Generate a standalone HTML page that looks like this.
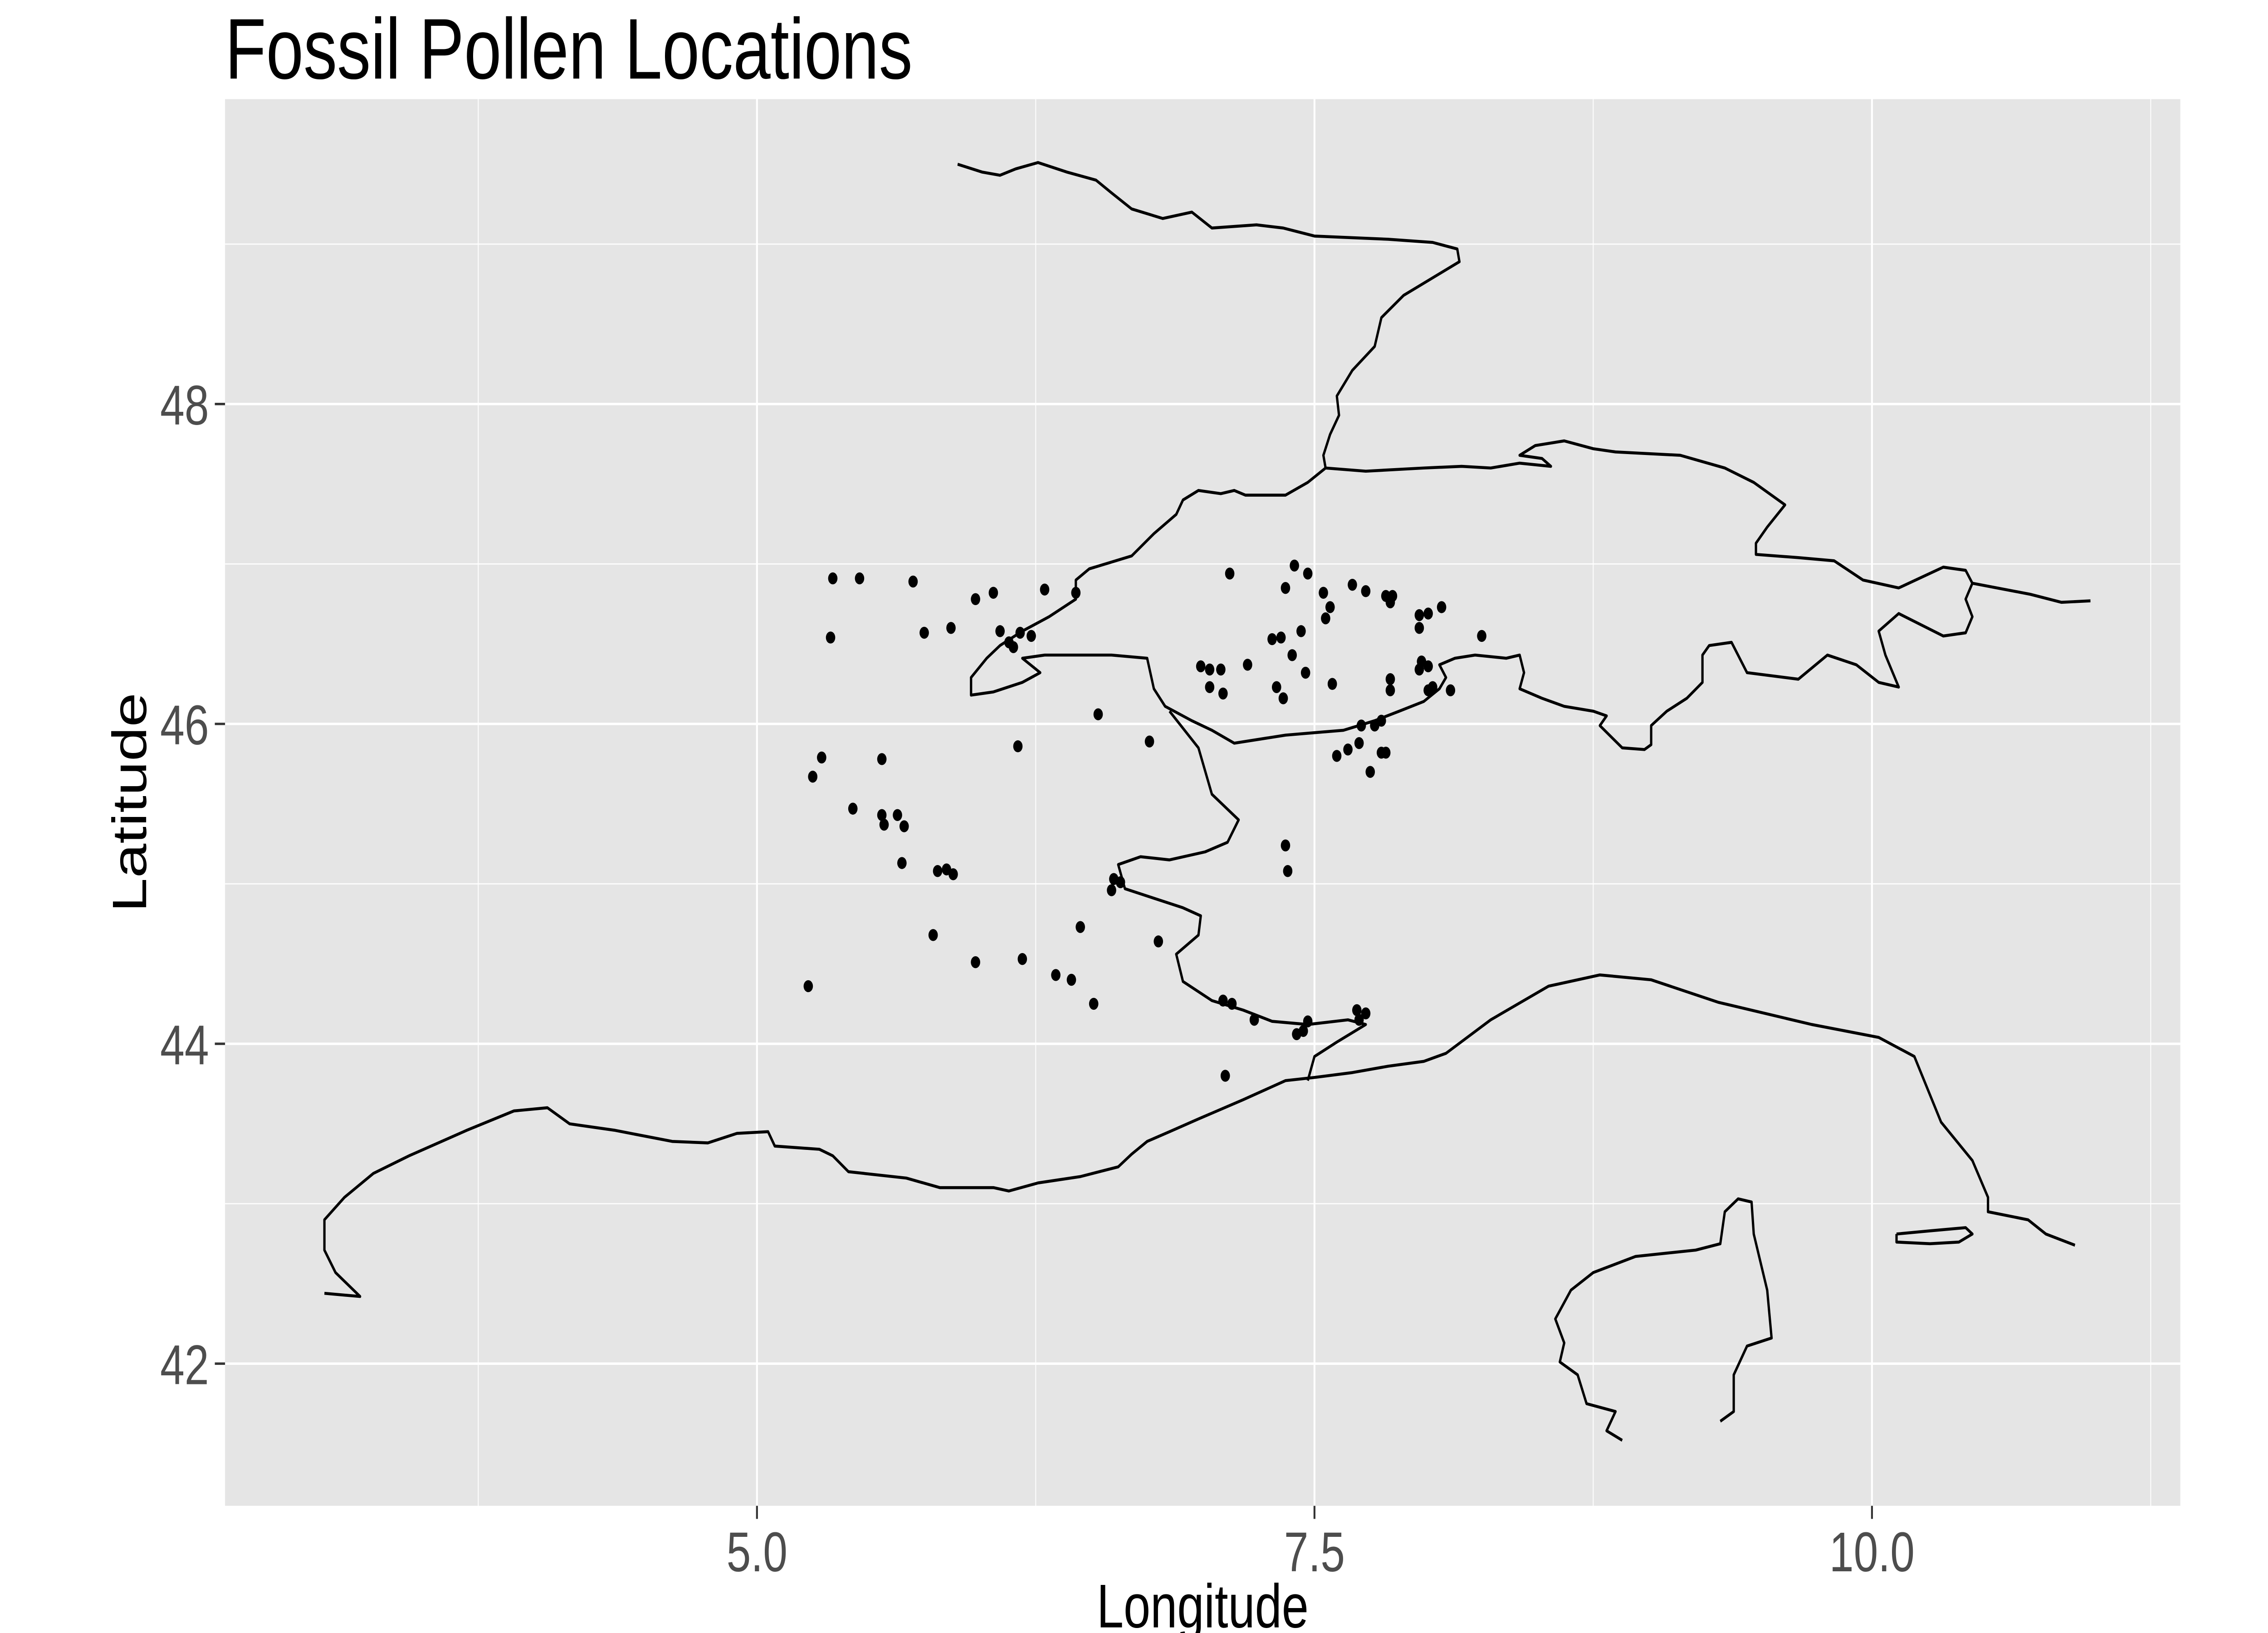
<!DOCTYPE html>
<html><head><meta charset="utf-8"><style>
html,body{margin:0;padding:0;background:#fff;width:100%;height:100%;overflow:hidden}
svg{display:block;width:100vw;height:100vh}
text{font-family:"Liberation Sans",Arial,sans-serif}
</style></head><body>
<svg id="chart" viewBox="0 0 1552 873" preserveAspectRatio="none" xmlns="http://www.w3.org/2000/svg">
<rect x="0" y="0" width="1552" height="873" fill="#fff"/>
<text x="154" y="42" font-size="46" fill="#000">Fossil Pollen Locations</text>
<rect x="154" y="53" width="1338" height="752" fill="#e5e5e5"/>
<g id="grid"></g>
<g id="map"></g>
<g id="pts"></g>
<g id="axes"></g>
<text x="823" y="870" font-size="33" text-anchor="middle" fill="#000">Longitude</text>
<text transform="translate(100,429) rotate(-90)" font-size="33" text-anchor="middle" fill="#000">Latitude</text>
</svg>
<script>
const lonPts=[5.34,5.46,5.33,5.70,5.98,6.06,6.29,6.43,5.75,5.87,6.09,6.13,6.15,6.18,6.23,5.25,5.29,5.56,5.43,5.56,5.63,5.57,5.66,5.65,5.81,5.85,5.88,5.79,5.98,6.19,6.34,6.41,6.45,6.53,6.17,5.23,7.12,7.41,7.47,7.54,7.67,7.73,7.82,7.84,7.85,7.37,7.35,7.44,7.55,7.57,7.31,6.99,7.03,7.08,7.20,7.03,7.09,7.33,7.36,7.40,7.46,7.58,7.97,8.01,8.07,7.97,7.84,7.84,7.98,8.01,7.97,8.03,8.01,8.11,8.25,7.71,7.77,7.80,7.70,7.65,7.60,7.80,7.82,7.75,6.76,7.37,7.38,6.60,6.59,6.63,6.80,6.51,7.09,7.13,7.23,7.42,7.47,7.45,7.69,7.73,7.70,7.10];
const latPts=[46.91,46.91,46.54,46.89,46.78,46.82,46.84,46.82,46.57,46.60,46.58,46.51,46.48,46.57,46.55,45.67,45.79,45.78,45.47,45.43,45.43,45.37,45.36,45.13,45.08,45.09,45.06,44.68,44.51,44.53,44.43,44.40,44.73,46.06,45.86,44.36,46.94,46.99,46.94,46.82,46.87,46.83,46.80,46.76,46.80,46.85,46.54,46.58,46.66,46.73,46.53,46.36,46.34,46.34,46.37,46.23,46.19,46.23,46.16,46.43,46.32,46.25,46.68,46.69,46.73,46.60,46.28,46.21,46.39,46.36,46.34,46.23,46.21,46.21,46.55,45.99,45.99,46.02,45.88,45.84,45.80,45.82,45.82,45.70,45.89,45.24,45.08,45.03,44.96,45.01,44.64,44.25,44.27,44.25,44.15,44.06,44.14,44.08,44.21,44.19,44.15,43.80];
const xMajor=[5.0,7.5,10.0];
const xMajorLabels=["5.0","7.5","10.0"];
const xMinor=[3.75,6.25,8.75,11.25];
const yMajor=[42,44,46,48];
const yMajorLabels=["42","44","46","48"];
const yMinor=[43,45,47,49];
const pathALon=[5.90,6.01,6.09,6.16,6.26,6.39,6.52,6.59,6.68,6.82,6.95,7.04,7.24,7.36,7.50,7.83,8.03,8.14,8.15,7.90,7.80,7.77,7.67,7.60,7.61,7.57,7.54,7.55,7.73,7.99,8.16,8.29,8.42,8.56,8.52,8.42,8.49,8.62,8.75,8.85,9.14,9.34,9.47,9.61,9.53,9.48,9.48,9.67,9.83,9.96,10.12,10.32,10.42,10.45,10.71,10.85,10.98];
const pathALat=[49.50,49.45,49.43,49.47,49.51,49.45,49.40,49.32,49.22,49.16,49.20,49.10,49.12,49.10,49.05,49.03,49.01,48.97,48.89,48.68,48.54,48.36,48.21,48.05,47.93,47.81,47.68,47.60,47.58,47.60,47.61,47.60,47.63,47.61,47.66,47.68,47.74,47.77,47.72,47.70,47.68,47.60,47.51,47.37,47.23,47.13,47.06,47.04,47.02,46.90,46.85,46.98,46.96,46.88,46.81,46.76,46.77];
const pathBLon=[7.55,7.47,7.37,7.19,7.14,7.08,6.98,6.91,6.88,6.78,6.68,6.49,6.43,6.43,6.31,6.19,6.09,6.03,5.96,5.96,6.06,6.19,6.27,6.19,6.29,6.45,6.59,6.75,6.78,6.83,6.95,7.04,7.14,7.37,7.63,7.77,7.88,7.99,8.06,8.09,8.06,8.13,8.22,8.36,8.42,8.44,8.42,8.52,8.62,8.75,8.81,8.78,8.88,8.98,9.01,9.01,9.08,9.17,9.24,9.24,9.27,9.37,9.44,9.67,9.80,9.93,10.03,10.12,10.06,10.03,10.12,10.32,10.42,10.45,10.42,10.45];
const pathBLat=[47.60,47.51,47.43,47.43,47.46,47.44,47.46,47.40,47.31,47.19,47.05,46.97,46.90,46.78,46.67,46.58,46.49,46.41,46.29,46.18,46.20,46.26,46.32,46.41,46.43,46.43,46.43,46.41,46.22,46.11,46.02,45.96,45.88,45.93,45.96,46.02,46.08,46.14,46.22,46.29,46.37,46.41,46.43,46.41,46.43,46.32,46.22,46.16,46.11,46.08,46.05,45.99,45.85,45.84,45.87,45.99,46.08,46.16,46.26,46.43,46.49,46.51,46.32,46.28,46.43,46.37,46.26,46.23,46.43,46.58,46.69,46.55,46.57,46.67,46.78,46.88];
const pathCLon=[6.85,6.98,7.04,7.16,7.11,7.01,6.85,6.72,6.62,6.65,6.78,6.91,6.99,6.98,6.88,6.91,7.04,7.18,7.31,7.47,7.65,7.73,7.60,7.50,7.47];
const pathCLat=[46.08,45.85,45.56,45.40,45.26,45.20,45.15,45.17,45.12,44.97,44.91,44.85,44.80,44.68,44.56,44.39,44.27,44.21,44.14,44.12,44.15,44.12,44.01,43.92,43.77];
const coastLon=[3.06,3.22,3.11,3.06,3.06,3.15,3.28,3.44,3.70,3.91,4.06,4.16,4.36,4.62,4.78,4.91,5.05,5.08,5.28,5.34,5.41,5.67,5.82,6.06,6.13,6.26,6.45,6.62,6.68,6.75,6.85,6.98,7.18,7.37,7.50,7.67,7.83,7.99,8.09,8.29,8.55,8.78,9.01,9.31,9.73,10.03,10.19,10.31,10.45,10.52,10.52,10.70,10.78,10.91];
const coastLat=[42.44,42.42,42.57,42.71,42.90,43.04,43.19,43.30,43.46,43.58,43.60,43.50,43.46,43.39,43.38,43.44,43.45,43.36,43.34,43.30,43.20,43.16,43.10,43.10,43.08,43.13,43.17,43.23,43.31,43.39,43.45,43.53,43.65,43.77,43.79,43.82,43.86,43.89,43.94,44.15,44.36,44.43,44.40,44.26,44.12,44.04,43.92,43.51,43.27,43.04,42.95,42.90,42.81,42.74];
const elbaLon=[10.11,10.26,10.42,10.45,10.39,10.26,10.11,10.11];
const elbaLat=[42.81,42.83,42.85,42.81,42.76,42.75,42.76,42.81];
const corsLon=[9.32,9.38,9.38,9.44,9.55,9.53,9.47,9.46,9.40,9.34,9.32,9.21,8.94,8.75,8.65,8.58,8.62,8.60,8.68,8.72,8.85,8.81,8.88];
const corsLat=[41.64,41.70,41.93,42.11,42.16,42.46,42.81,43.01,43.03,42.95,42.75,42.71,42.67,42.57,42.46,42.28,42.13,42.01,41.93,41.75,41.70,41.58,41.52];

const NS="http://www.w3.org/2000/svg";
const X0=154,X1=1492,Y0=53,Y1=805;
function sx(lon){return 518+(lon-5)*152.6;}
function sy(lat){return 216-(lat-48)*85.5;}
function mk(tag,attrs,parent){const e=document.createElementNS(NS,tag);for(const k in attrs)e.setAttribute(k,attrs[k]);parent.appendChild(e);return e;}
const grid=document.getElementById('grid'),map=document.getElementById('map'),pts=document.getElementById('pts'),axes=document.getElementById('axes');
xMinor.forEach(v=>{const l=mk('line',{x1:sx(v),x2:sx(v),y1:Y0,y2:Y1,stroke:'#fff','stroke-width':0.6},grid);

});
yMinor.forEach(v=>{const l=mk('line',{x1:X0,x2:X1,y1:sy(v),y2:sy(v),stroke:'#fff','stroke-width':0.6},grid);

});
xMajor.forEach((v,i)=>{const l=mk('line',{x1:sx(v),x2:sx(v),y1:Y0,y2:Y1,stroke:'#fff','stroke-width':1.3},grid);


const t=mk('line',{x1:sx(v),x2:sx(v),y1:Y1,y2:Y1+7,stroke:'#333','stroke-width':1.3},axes);


const tx=mk('text',{x:sx(v),y:Y1+35,'font-size':30,'text-anchor':'middle',fill:'#4d4d4d'},axes);tx.textContent=xMajorLabels[i];

});
yMajor.forEach((v,i)=>{const l=mk('line',{x1:X0,x2:X1,y1:sy(v),y2:sy(v),stroke:'#fff','stroke-width':1.3},grid);


const t=mk('line',{x1:X0-7,x2:X0,y1:sy(v),y2:sy(v),stroke:'#333','stroke-width':1.3},axes);


const tx=mk('text',{x:X0-11,y:sy(v)+11,'font-size':30,'text-anchor':'end',fill:'#4d4d4d'},axes);tx.textContent=yMajorLabels[i];

});
function drawPath(lons,lats,name){const d=lons.map((v,i)=>(i?'L':'M')+sx(v).toFixed(1)+','+sy(lats[i]).toFixed(1)).join('');
const p=mk('path',{d:d,fill:'none',stroke:'#000','stroke-width':1.6,'stroke-linejoin':'round'},map);

}
drawPath(pathALon,pathALat,'border-north');
drawPath(pathBLon,pathBLat,'border-swiss-italy');
drawPath(pathCLon,pathCLat,'border-france-italy');
drawPath(coastLon,coastLat,'coastline');
drawPath(elbaLon,elbaLat,'elba-island');
drawPath(corsLon,corsLat,'corsica-island');
lonPts.forEach((v,i)=>{const c=mk('circle',{cx:sx(v),cy:sy(latPts[i]),r:3.2,fill:'#000'},pts);

});
</script>
</body></html>
